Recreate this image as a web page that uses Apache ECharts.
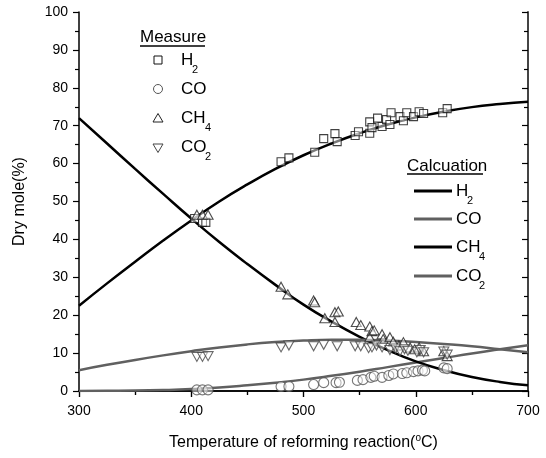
<!DOCTYPE html>
<html><head><meta charset="utf-8">
<script src="https://cdn.jsdelivr.net/npm/echarts@6/dist/echarts.min.js"></script>
<style>html,body{margin:0;padding:0;background:#fff}#c{width:546px;height:458px}</style>
</head><body><div id="c"></div>
<script>
// ---- data ----
const calcTemps = [300,325,350,375,400,425,450,475,500,525,550,575,600,625,650,675,700];
const h2Calc  = [22.5,28.4,34.1,39.7,45,50,54.5,58.6,62.2,65.3,68,70.3,72.2,73.7,74.9,75.7,76.3];
const coCalc  = [0,0.05,0.1,0.25,0.5,0.9,1.5,2.2,3.0,4.0,5.1,6.3,7.5,8.7,9.9,11.0,12.1];
const ch4Calc = [72,65.3,58.6,52,45.5,39.3,33.5,28,22.8,18.3,14.3,10.8,7.8,5.5,3.7,2.4,1.5];
const co2Calc = [5.5,6.9,8.2,9.4,10.5,11.5,12.3,12.9,13.3,13.5,13.5,13.3,12.9,12.4,11.8,11.0,10.2];

const h2Meas = [[403,45.5],[410,44.5],[413,44.5],[480,60.5],[487,61.5],[510,63],[518,66.6],[528,67.9],[530,65.8],[546,67.4],[549,68.4],[559,68],[559,71],[561,69.5],[566,72],[570,69.8],[574,71.6],[577,70.3],[578,73.4],[586,72.4],[589,71.3],[592,73.4],[598,72.4],[603,73.7],[607,73.2],[624,73.4],[628,74.5]];
const coMeas = [[405,0.3],[410,0.3],[415,0.3],[480,1.2],[487,1.2],[509,1.7],[518,2.2],[529,2.2],[532,2.3],[548,2.8],[553,3.0],[560,3.6],[563,3.9],[570,3.6],[576,4.1],[580,4.5],[588,4.6],[592,4.8],[598,5.1],[602,5.3],[606,5.5],[608,5.3],[625,6.1],[628,5.9]];
const ch4Meas = [[405,46.5],[410,46.5],[415,46.5],[480,27.5],[486,25.5],[509,23.9],[510,23.4],[519,19.2],[528,20.8],[531,21],[528,18.2],[547,18.2],[551,17.4],[559,17],[561,15.8],[559,14.2],[563,16],[570,15],[571,13.7],[577,14.2],[580,13],[585,12],[589,12.9],[595,11.5],[599,11],[603,11.5],[607,10.5],[625,10.5],[628,9.2]];
const co2Meas = [[405,9],[410,9],[415,9.2],[480,11.5],[487,12],[509,11.8],[518,12.2],[530,11.8],[546,11.8],[551,11.8],[558,11.3],[561,11.5],[565,12],[570,11.5],[577,10.8],[582,11.2],[586,10.5],[590,11],[593,10.6],[601,10.2],[604,10.8],[607,10.2],[625,10.4],[628,9.6]];

const xTicks = [300,400,500,600,700];
const yTicks = [0,10,20,30,40,50,60,70,80,90,100];

// ---- chart ----
const FONT = 'Liberation Sans, Arial, sans-serif';
const chart = echarts.init(document.getElementById('c'), null, {renderer:'canvas'});
const zip = (xs, ys) => xs.map((x,i)=>[x, ys[i]]);
const invTri = 'path://M0,0 L10,0 L5,8.7 Z';

const axCommon = {
  axisLine:{show:true, lineStyle:{color:'#000', width:1.5}},
  splitLine:{show:false}
};
const option = {
  animation:false,
  grid:{left:79, right:18, top:12, bottom:66},
  xAxis:[
    Object.assign({type:'value', min:300, max:700, interval:100, position:'bottom',
      axisTick:{show:true, length:6, lineStyle:{color:'#000', width:1.2}},
      minorTick:{show:true, splitNumber:2, length:4, lineStyle:{color:'#000', width:1.2}},
      axisLabel:{fontSize:14, color:'#000', fontFamily:FONT, margin:13,
        formatter: v => xTicks.includes(v) ? String(v) : ''},
      name:'{a|Temperature of reforming reaction(}{o|o}{a|C)}',
      nameLocation:'middle', nameGap:42,
      nameTextStyle:{rich:{
        a:{fontSize:16, fontFamily:FONT, color:'#000', lineHeight:20},
        o:{fontSize:10, fontFamily:FONT, color:'#000', lineHeight:10, padding:[0,0,10,0]}
      }}
    }, axCommon),
    Object.assign({type:'value', min:300, max:700, interval:100, position:'top',
      axisTick:{show:true, inside:true, length:6, lineStyle:{color:'#000', width:1.2}},
      minorTick:{show:true, splitNumber:2, length:4, lineStyle:{color:'#000', width:1.2}},
      axisLabel:{show:false}
    }, axCommon)
  ],
  yAxis:[
    Object.assign({type:'value', min:0, max:100, interval:10, position:'left',
      axisTick:{show:true, length:6, lineStyle:{color:'#000', width:1.2}},
      minorTick:{show:true, splitNumber:2, length:4, lineStyle:{color:'#000', width:1.2}},
      axisLabel:{fontSize:14, color:'#000', fontFamily:FONT, margin:11,
        formatter: v => yTicks.includes(v) ? String(v) : ''},
      name:'Dry mole(%)', nameLocation:'middle', nameGap:51,
      nameTextStyle:{fontSize:16, fontFamily:FONT, color:'#000'}
    }, axCommon),
    Object.assign({type:'value', min:0, max:100, interval:10, position:'right',
      axisTick:{show:true, inside:true, length:6, lineStyle:{color:'#000', width:1.2}},
      minorTick:{show:true, splitNumber:2, length:4, lineStyle:{color:'#000', width:1.2}},
      axisLabel:{show:false}
    }, axCommon, {axisLine:{show:true, lineStyle:{color:'#444', width:2}}})
  ],
  series:[
    {type:'line', name:'H2 calc', data:zip(calcTemps,h2Calc), smooth:true, symbol:'none', lineStyle:{color:'#000', width:2.5}, z:2},
    {type:'line', name:'CO calc', data:zip(calcTemps,coCalc), smooth:true, symbol:'none', lineStyle:{color:'#606060', width:2.5}, z:2},
    {type:'line', name:'CH4 calc', data:zip(calcTemps,ch4Calc), smooth:true, symbol:'none', lineStyle:{color:'#000', width:2.5}, z:2},
    {type:'line', name:'CO2 calc', data:zip(calcTemps,co2Calc), smooth:true, symbol:'none', lineStyle:{color:'#606060', width:2.5}, z:2},
    {type:'scatter', name:'H2', data:h2Meas, symbol:'rect', symbolSize:8, itemStyle:{color:'rgba(255,255,255,0.6)', borderColor:'#111', borderWidth:1.1}, z:3},
    {type:'scatter', name:'CO', data:coMeas, symbol:'circle', symbolSize:10, itemStyle:{color:'rgba(255,255,255,0.6)', borderColor:'#555', borderWidth:1.1}, z:3},
    {type:'scatter', name:'CH4', data:ch4Meas, symbol:'triangle', symbolSize:[10,9], itemStyle:{color:'rgba(255,255,255,0.6)', borderColor:'#222', borderWidth:1.1}, z:3},
    {type:'scatter', name:'CO2', data:co2Meas, symbol:invTri, symbolSize:[10,9], itemStyle:{color:'rgba(255,255,255,0.6)', borderColor:'#444', borderWidth:1.1}, z:3}
  ],
  graphic:[]
};

// ---- legends (decorations) ----
const G = option.graphic;
const txt = (x,y,t,size,extra) => G.push(Object.assign({type:'text', x:x, y:y,
  style:{text:t, fontSize:size, fontFamily:FONT, fill:'#000', textVerticalAlign:'middle'}}, extra||{}));
// Measure
txt(140,37,'Measure',17);
G.push({type:'line', shape:{x1:140,y1:46,x2:205,y2:46}, style:{stroke:'#000', lineWidth:1.5}});
G.push({type:'rect', shape:{x:154,y:56,width:8,height:8}, style:{fill:'none', stroke:'#111', lineWidth:1}});
G.push({type:'circle', shape:{cx:158,cy:89,r:4.5}, style:{fill:'none', stroke:'#555', lineWidth:1}});
G.push({type:'polygon', shape:{points:[[153,122],[163,122],[158,113.5]]}, style:{fill:'none', stroke:'#222', lineWidth:1}});
G.push({type:'polygon', shape:{points:[[153,144],[163,144],[158,152.5]]}, style:{fill:'none', stroke:'#444', lineWidth:1}});
txt(181,60,'H',17); txt(192,70,'2',11);
txt(181,89,'CO',17);
txt(181,118,'CH',17); txt(205,128,'4',11);
txt(181,147,'CO',17); txt(205,157,'2',11);
// Calculation
txt(407,166,'Calcuation',17);
G.push({type:'line', shape:{x1:407,y1:174,x2:483,y2:174}, style:{stroke:'#000', lineWidth:1.5}});
const calcRows = [[191,'#000','H','2',467],[219,'#606060','CO','',0],[247,'#000','CH','4',479],[276,'#606060','CO','2',479]];
calcRows.forEach(r=>{
  G.push({type:'line', shape:{x1:414,y1:r[0],x2:452,y2:r[0]}, style:{stroke:r[1], lineWidth:2.8}});
  txt(456,r[0],r[2],17);
  if(r[3]) txt(r[4],r[0]+10,r[3],11);
});

chart.setOption(option);
</script></body></html>
